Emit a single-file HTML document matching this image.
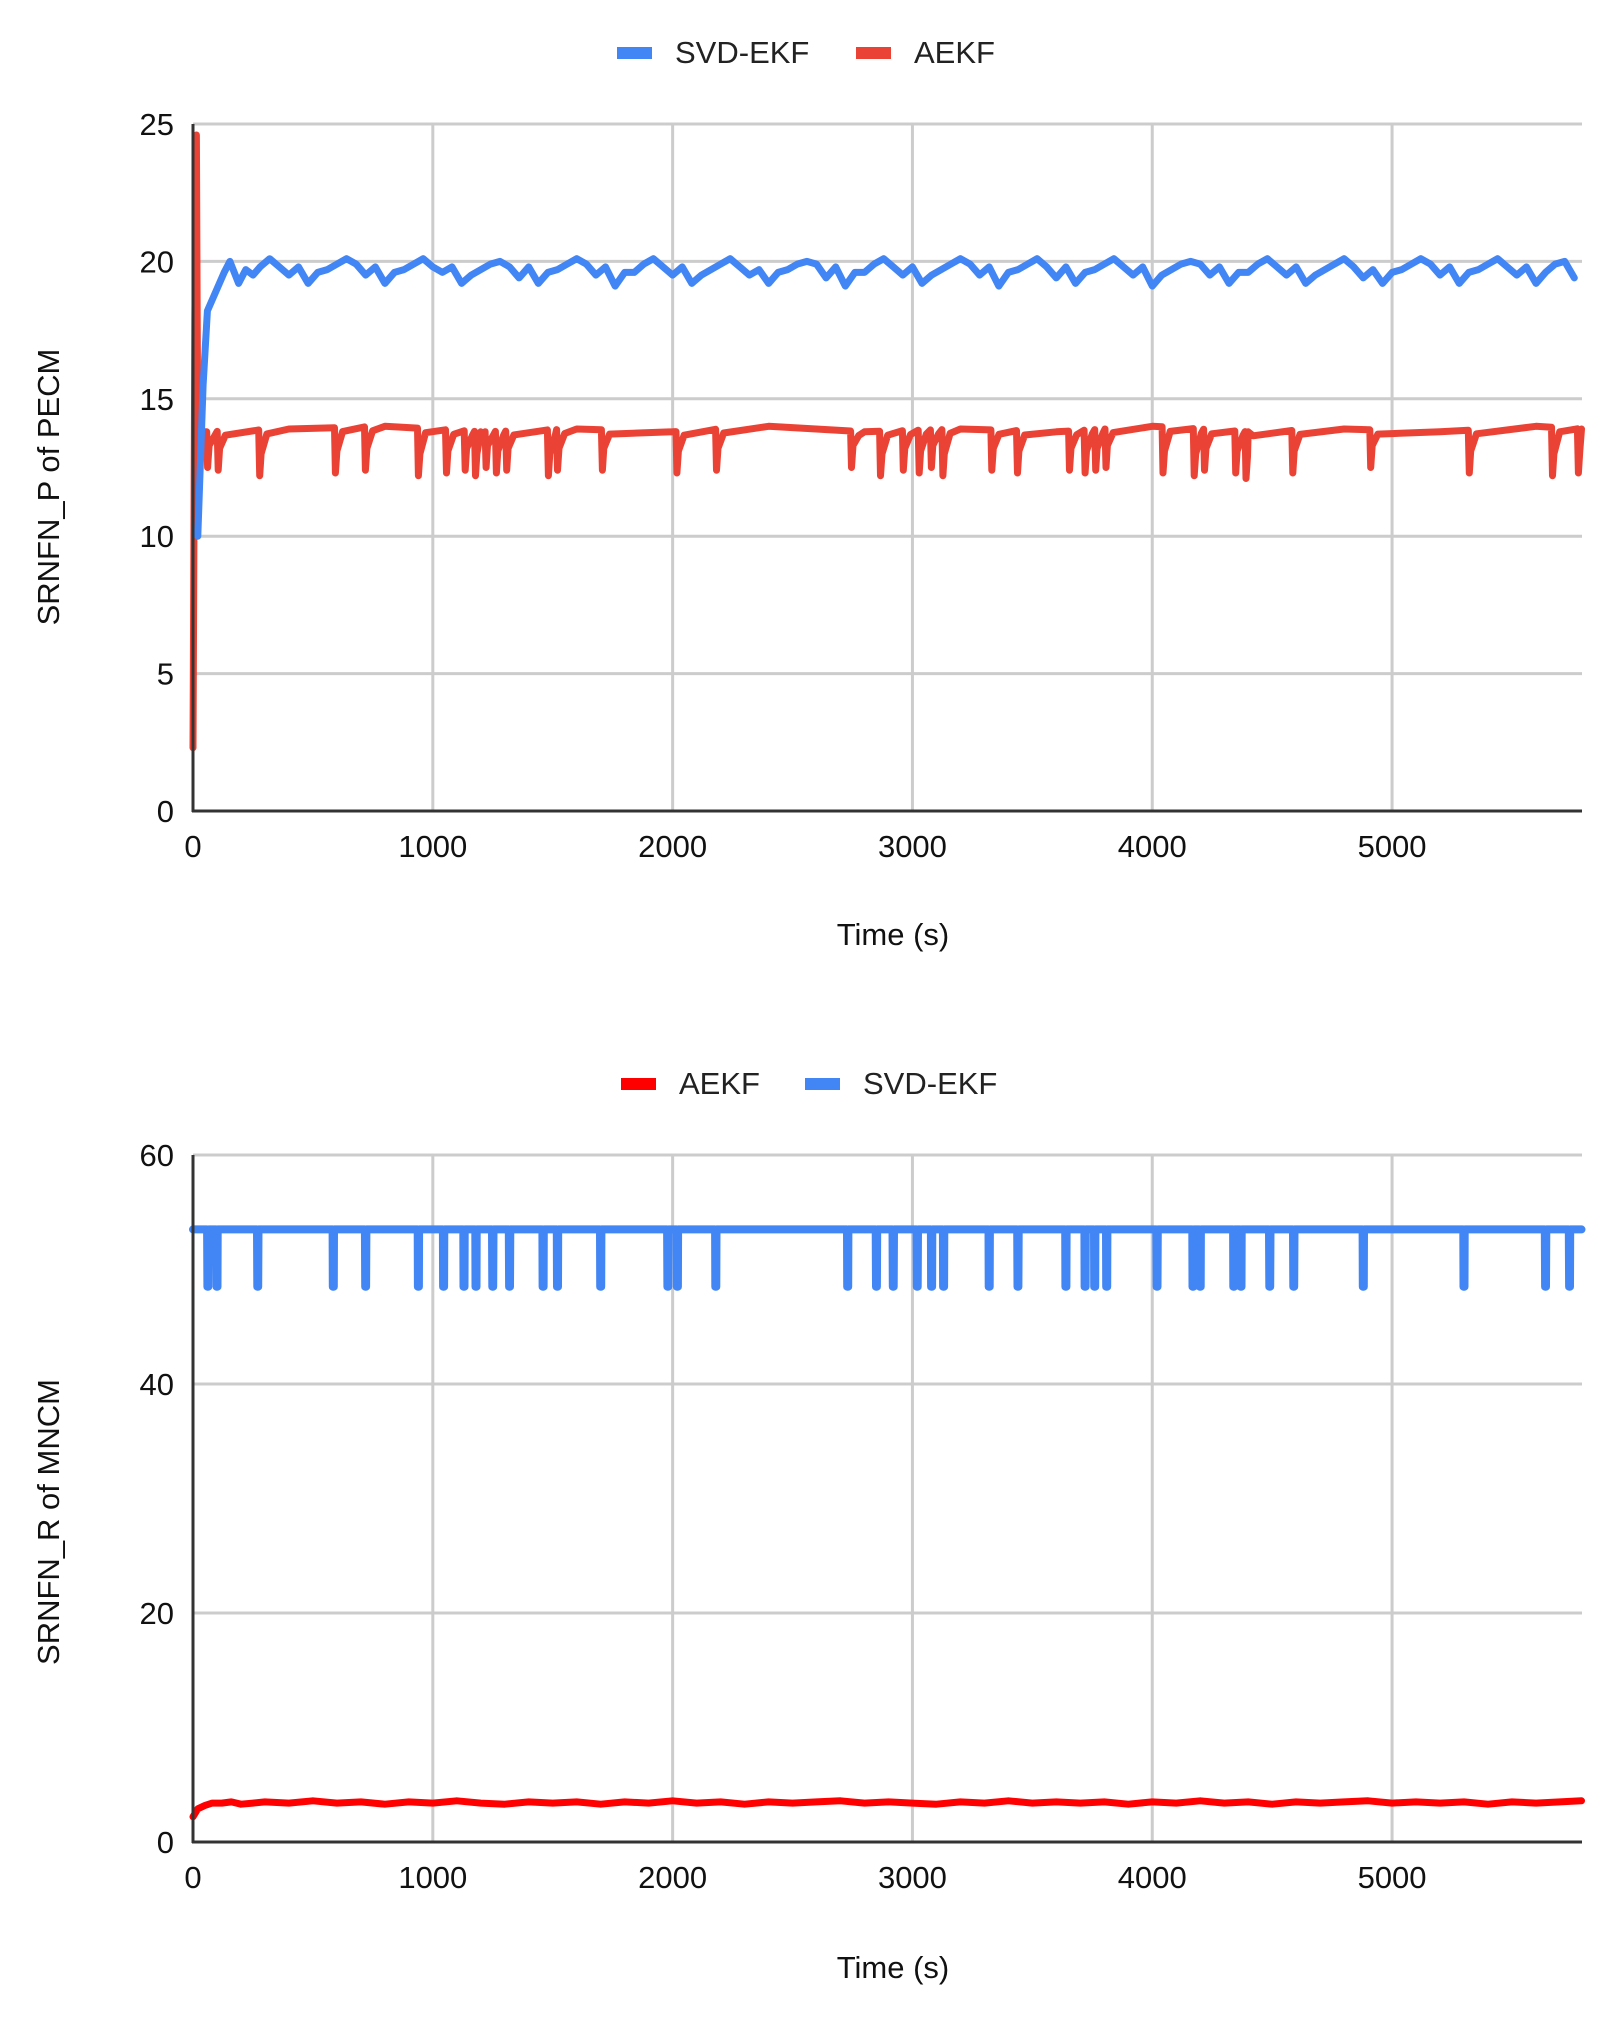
<!DOCTYPE html>
<html><head><meta charset="utf-8"><style>
html,body{margin:0;padding:0;background:#fff;}
svg{display:block;font-family:"Liberation Sans",sans-serif;}
</style></head><body>
<svg id="chart" width="1619" height="2019" viewBox="0 0 1619 2019"></svg>
<script>
// ---------- Data: top chart (SRNFN_P of PECM) ----------
const xTicks = [0,1000,2000,3000,4000,5000];
const yTicksTop = [0,5,10,15,20,25];
const yTicksBottom = [0,20,40,60];
const svdTopT = [20,42,60,100,130,154,190,220,250,280];
const svdTopEarly = [10,15.5,18.2,19.0,19.6,20.0,19.2,19.7,19.5,19.8];
const svdTopSteady = [20.1,19.8,19.5,19.8,19.2,19.6,19.7,19.9,20.1,19.9,19.5,19.8,19.2,19.6,19.7,19.9,
20.1,19.8,19.6,19.8,19.2,19.5,19.7,19.9,20.0,19.8,19.4,19.8,19.2,19.6,19.7,19.9,20.1,19.9,19.5,19.8,
19.1,19.6,19.6,19.9,20.1,19.8,19.5,19.8,19.2,19.5,19.7,19.9,20.1,19.8,19.5,19.7,19.2,19.6,19.7,19.9,
20.0,19.9,19.4,19.8,19.1,19.6,19.6,19.9,20.1,19.8,19.5,19.8,19.2,19.5,19.7,19.9,20.1,19.9,19.5,19.8,
19.1,19.6,19.7,19.9,20.1,19.8,19.4,19.8,19.2,19.6,19.7,19.9,20.1,19.8,19.5,19.8,19.1,19.5,19.7,19.9,
20.0,19.9,19.5,19.8,19.2,19.6,19.6,19.9,20.1,19.8,19.5,19.8,19.2,19.5,19.7,19.9,20.1,19.8,19.4,19.7,
19.2,19.6,19.7,19.9,20.1,19.9,19.5,19.8,19.2,19.6,19.7,19.9,20.1,19.8,19.5,19.8,19.2,19.6,19.9,20.0,19.4];
const svdTopStartT = 320, svdTopStepT = 40;
const aekfTopEarlyT = [0,8,14,20,28,40];
const aekfTopEarly = [2.3,18,24.6,13,12.6,13.8];
const aekfBaseT = [50,400,800,1200,1600,2000,2400,2800,3200,3600,4000,4400,4800,5200,5600,5790];
const aekfBaseV = [13.8,13.9,14.0,13.8,13.9,13.8,14.0,13.8,13.9,13.8,14.0,13.8,13.9,13.8,14.0,13.9];
const aekfDipT = [61,105,278,594,719,940,1057,1135,1178,1222,1265,1308,1482,1520,1707,2018,2183,2746,2867,2962,3028,3079,3127,3331,3438,3655,3720,3764,3807,4045,4175,4218,4348,4391,4586,4911,5322,5669,5777];
const aekfDipV = [12.5,12.4,12.2,12.3,12.4,12.2,12.3,12.4,12.2,12.5,12.3,12.4,12.2,12.4,12.4,12.3,12.4,12.5,12.2,12.4,12.3,12.5,12.2,12.4,12.3,12.4,12.3,12.4,12.5,12.3,12.2,12.4,12.3,12.1,12.3,12.5,12.3,12.2,12.3];
// ---------- Data: bottom chart (SRNFN_R of MNCM) ----------
const svdBotLevel = 53.5;
const svdBotDipT = [62,100,270,585,720,940,1045,1130,1180,1250,1320,1460,1520,1700,1980,2020,2180,2730,2850,2920,3020,3080,3130,3320,3440,3640,3720,3760,3810,4020,4170,4200,4340,4370,4490,4590,4880,5300,5640,5740];
const svdBotDipV = [48.5,48.5,48.5,48.5,48.5,48.5,48.5,48.5,48.5,48.5,48.5,48.5,48.5,48.5,48.5,48.5,48.5,48.5,48.5,48.5,48.5,48.5,48.5,48.5,48.5,48.5,48.5,48.5,48.5,48.5,48.5,48.5,48.5,48.5,48.5,48.5,48.5,48.5,48.5,48.5];
const aekfBotT = [0,20,50,80,120,160,200,250,300,400,500,600,700,800,900,1000,1100,1200,1300,1400,1500,1600,1700,1800,1900,2000,2100,2200,2300,2400,2500,2600,2700,2800,2900,3000,3100,3200,3300,3400,3500,3600,3700,3800,3900,4000,4100,4200,4300,4400,4500,4600,4700,4800,4900,5000,5100,5200,5300,5400,5500,5600,5700,5790];
const aekfBotV = [2.2,2.9,3.2,3.4,3.4,3.5,3.3,3.4,3.5,3.4,3.6,3.4,3.5,3.3,3.5,3.4,3.6,3.4,3.3,3.5,3.4,3.5,3.3,3.5,3.4,3.6,3.4,3.5,3.3,3.5,3.4,3.5,3.6,3.4,3.5,3.4,3.3,3.5,3.4,3.6,3.4,3.5,3.4,3.5,3.3,3.5,3.4,3.6,3.4,3.5,3.3,3.5,3.4,3.5,3.6,3.4,3.5,3.4,3.5,3.3,3.5,3.4,3.5,3.6];

const NS = "http://www.w3.org/2000/svg";
const svg = document.getElementById('chart');
const X0 = 193, X1 = 1582, XMAX = 5792;
function xs(t){ return X0 + t/XMAX*(X1-X0); }
const topY0 = 811, topY1 = 124, topMax = 25;
function ysTop(v){ return topY0 - v/topMax*(topY0-topY1); }
const botY0 = 1842, botY1 = 1155, botMax = 60;
function ysBot(v){ return botY0 - v/botMax*(botY0-botY1); }

function el(tag, attrs, parent){
  const e = document.createElementNS(NS, tag);
  for (const k in attrs) e.setAttribute(k, attrs[k]);
  (parent||svg).appendChild(e);
  return e;
}
function txt(s, attrs, parent){ const e = el('text', attrs, parent); e.textContent = s; return e; }

function frame(yTicks, ys, y0, y1, prefix){
  const g = el('g', {});
  
  
  yTicks.forEach(v => {
    if (v > 0) {
      const l = el('line', {x1:X0, x2:X1, y1:ys(v), y2:ys(v), stroke:'#cccccc', 'stroke-width':3}, g);
      
      
    }
    const t = txt(String(v), {x:174, y:ys(v)+11, 'text-anchor':'end', 'font-size':31, fill:'#111'});
    
    
  });
  xTicks.forEach(v => {
    if (v > 0) {
      const l = el('line', {x1:xs(v), x2:xs(v), y1:y0, y2:y1, stroke:'#cccccc', 'stroke-width':3}, g);
      
      
    }
    const t = txt(String(v), {x:xs(v), y:y0+46, 'text-anchor':'middle', 'font-size':31, fill:'#111'});
    
    
  });
}
function axes(y0, y1, prefix){
  const a = el('line', {x1:X0, x2:X0, y1:y0+1, y2:y1, stroke:'#333', 'stroke-width':3});
  
  
  const b = el('line', {x1:X0-1, x2:X1, y1:y0, y2:y0, stroke:'#333', 'stroke-width':3});
  
  
}
function path(pts, color, w, name){
  const d = pts.map((p,i)=>(i?'L':'M')+p[0].toFixed(1)+' '+p[1].toFixed(1)).join(' ');
  const p = el('path', {d:d, fill:'none', stroke:color, 'stroke-width':w, 'stroke-linejoin':'round', 'stroke-linecap':'round'});
  
  
}
function legend(items, y, prefix){
  items.forEach(it => {
    const r = el('rect', {x:it.x, y:y, width:35, height:12, fill:it.color});
    
    
    const t = txt(it.label, {x:it.x+58, y:y+16, 'font-size':31, fill:'#222'});
    
    
  });
}
function baseAt(t){
  for (let i=0;i<aekfBaseT.length-1;i++){
    if (t<=aekfBaseT[i+1]){ const f=(t-aekfBaseT[i])/(aekfBaseT[i+1]-aekfBaseT[i]); return aekfBaseV[i]+f*(aekfBaseV[i+1]-aekfBaseV[i]); }
  }
  return aekfBaseV[aekfBaseV.length-1];
}

// ---------- Top chart ----------
frame(yTicksTop, ysTop, topY0, topY1, 'top');
{
  const pts = aekfTopEarlyT.map((t,i)=>[xs(t), ysTop(aekfTopEarly[i])]);
  const ev = [];
  aekfBaseT.forEach(t=>{ if (t>40) ev.push([t, baseAt(t)]); });
  aekfDipT.forEach((t,i)=>{
    ev.push([t-4, baseAt(t-4)]);
    ev.push([t, aekfDipV[i]]);
    ev.push([t+6, aekfDipV[i]+0.8]);
    ev.push([t+30, baseAt(t+30)-0.15]);
  });
  ev.sort((a,b)=>a[0]-b[0]);
  ev.forEach(p=>{ if (p[0]<=XMAX) pts.push([xs(Math.min(p[0],5790)), ysTop(p[1])]); });
  path(pts, '#EA4335', 7, 'top-aekf-line');
}
{
  const pts = svdTopT.map((t,i)=>[xs(t), ysTop(svdTopEarly[i])]);
  svdTopSteady.forEach((v,i)=>{ const t = svdTopStartT + i*svdTopStepT; if (t<=5790) pts.push([xs(t), ysTop(v)]); });
  path(pts, '#4285F4', 7, 'top-svd-ekf-line');
}
axes(topY0, topY1, 'top');
legend([{x:617,color:'#4285F4',label:'SVD-EKF',key:'svd-ekf'},{x:856,color:'#EA4335',label:'AEKF',key:'aekf'}], 47, 'top');
{
  const t = txt('Time (s)', {x:893, y:945, 'text-anchor':'middle', 'font-size':31, fill:'#111'});
  
  
  const y = txt('SRNFN_P of PECM', {x:0, y:0, 'text-anchor':'middle', 'font-size':31, fill:'#111', transform:'translate(59,487) rotate(-90)'});
  
  
}

// ---------- Bottom chart ----------
frame(yTicksBottom, ysBot, botY0, botY1, 'bottom');
{
  const pts = [[xs(0), ysBot(svdBotLevel)]];
  svdBotDipT.forEach((t,i)=>{
    pts.push([xs(t-3), ysBot(svdBotLevel)]);
    pts.push([xs(t-2), ysBot(svdBotDipV[i])]);
    pts.push([xs(t+2), ysBot(svdBotDipV[i])]);
    pts.push([xs(t+3), ysBot(svdBotLevel)]);
  });
  pts.push([xs(5790), ysBot(svdBotLevel)]);
  path(pts, '#4285F4', 8, 'bottom-svd-ekf-line');
}
path(aekfBotT.map((t,i)=>[xs(t), ysBot(aekfBotV[i])]), '#FF0000', 7, 'bottom-aekf-line');
axes(botY0, botY1, 'bottom');
legend([{x:621,color:'#FF0000',label:'AEKF',key:'aekf'},{x:805,color:'#4285F4',label:'SVD-EKF',key:'svd-ekf'}], 1078, 'bottom');
{
  const t = txt('Time (s)', {x:893, y:1978, 'text-anchor':'middle', 'font-size':31, fill:'#111'});
  
  
  const y = txt('SRNFN_R of MNCM', {x:0, y:0, 'text-anchor':'middle', 'font-size':31, fill:'#111', transform:'translate(59,1522) rotate(-90)'});
  
  
}
</script>
</body></html>
